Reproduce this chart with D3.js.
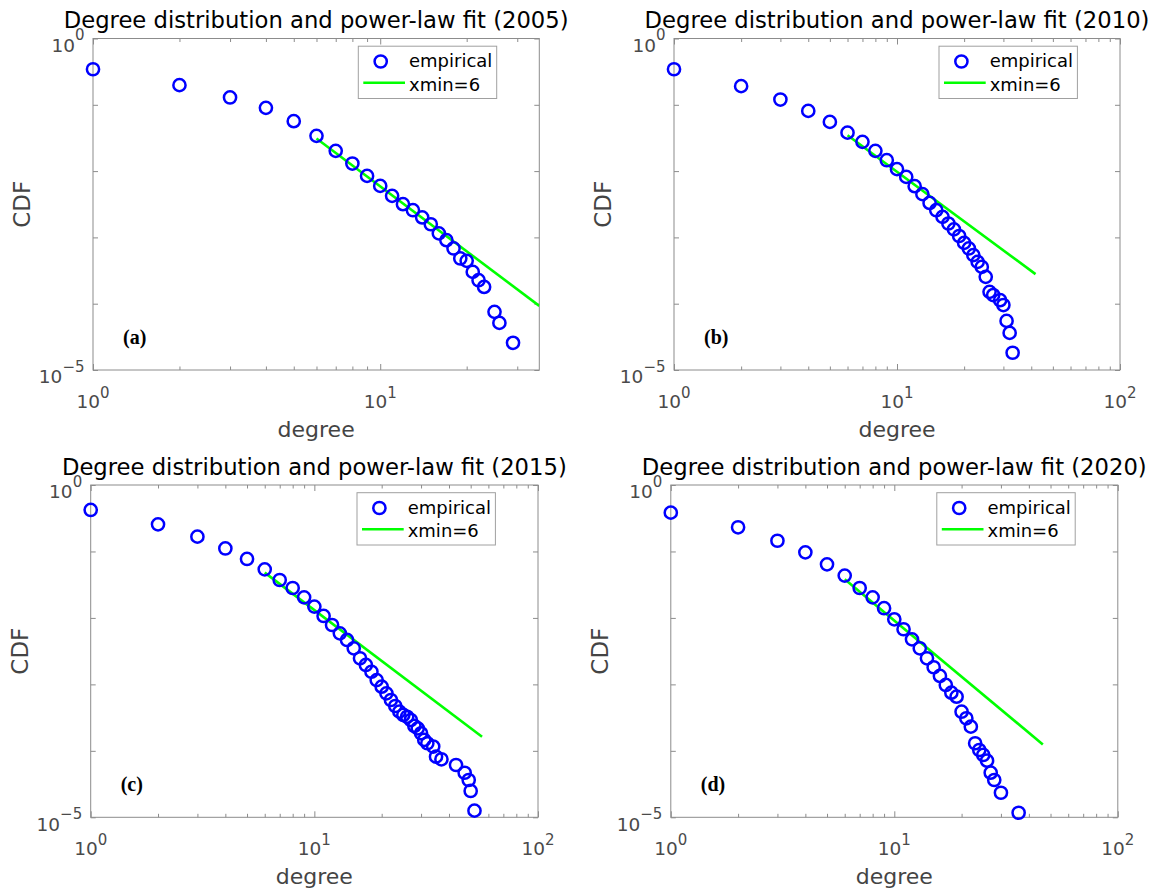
<!DOCTYPE html>
<html>
<head>
<meta charset="utf-8">
<script src="https://cdn.jsdelivr.net/npm/d3@7"></script>
<style>
  body { margin: 0; background: #fff; }
  svg { display: block; }
</style>
</head>
<body>
<svg id="chart" width="1163" height="892"></svg>
<script>
// ---------------- DATA ----------------
const years = [2005, 2010, 2015, 2020];
const panelTags = ["(a)", "(b)", "(c)", "(d)"];
const legendLabels = ["empirical", "xmin=6"];
const xLabel = "degree";
const yLabel = "CDF";
const xTickExps = [[0, 1], [0, 1, 2], [0, 1, 2], [0, 1, 2]];
const yTickExps = [0, -5];
const xMaxes = [35.8, 100, 100, 100];
const yDomain = [1e-5, 1];

const degree2005 = [1,2,3,4,5,6,7,8,9,10,11,12,13,14,15,16,17,18,19,20,21,22,23,25,26,29];
const cdf2005 = [3.44e-1,1.98e-1,1.29e-1,8.99e-2,5.66e-2,3.40e-2,2.02e-2,1.30e-2,8.47e-3,5.98e-3,
  4.23e-3,3.17e-3,2.57e-3,2.00e-3,1.58e-3,1.15e-3,9.08e-4,6.81e-4,4.81e-4,4.43e-4,
  3.02e-4,2.26e-4,1.79e-4,7.53e-5,5.13e-5,2.57e-5];

const degree2010 = [1,2,3,4,5,6,7,8,9,10,11,12,13,14,15,16,17,18,19,20,21,22,23,24,25,26,27,29,30,31,32,33];
const cdf2010 = [3.44e-1,1.91e-1,1.20e-1,8.09e-2,5.52e-2,3.80e-2,2.76e-2,2.02e-2,1.46e-2,1.07e-2,
  8.18e-3,5.92e-3,4.49e-3,3.31e-3,2.57e-3,2.04e-3,1.62e-3,1.32e-3,1.05e-3,8.26e-4,
  6.81e-4,5.40e-4,4.27e-4,3.59e-4,2.54e-4,1.51e-4,1.35e-4,1.13e-4,9.55e-5,5.50e-5,
  3.63e-5,1.82e-5];

const degree2015 = [1,2,3,4,5,6,7,8,9,10,11,12,13,14,15,16,17,18,19,20,21,22,23,24,25,26,27,28,29,30,31,32,34,35,37,43,47,49,50,52];
const cdf2015 = [4.21e-1,2.56e-1,1.67e-1,1.11e-1,7.71e-2,5.38e-2,3.72e-2,2.82e-2,2.04e-2,1.48e-2,
  1.07e-2,7.82e-3,5.86e-3,4.66e-3,3.49e-3,2.47e-3,1.96e-3,1.55e-3,1.16e-3,9.23e-4,
  7.33e-4,5.82e-4,4.73e-4,3.89e-4,3.47e-4,3.26e-4,2.91e-4,2.37e-4,2.18e-4,1.84e-4,
  1.46e-4,1.30e-4,1.16e-4,8.17e-5,7.46e-5,6.12e-5,4.68e-5,3.64e-5,2.49e-5,1.26e-5];

const degree2020 = [1,2,3,4,5,6,7,8,9,10,11,12,13,14,15,16,17,18,19,20,21,22,23,24,25,26,27,28,30,36];
const cdf2020 = [3.84e-1,2.31e-1,1.45e-1,9.70e-2,6.40e-2,4.33e-2,2.82e-2,2.04e-2,1.40e-2,9.53e-3,
  6.75e-3,4.76e-3,3.49e-3,2.47e-3,1.81e-3,1.34e-3,9.80e-4,7.50e-4,6.53e-4,3.88e-4,
  3.09e-4,2.31e-4,1.30e-4,1.03e-4,8.67e-5,7.11e-5,4.69e-5,3.64e-5,2.34e-5,1.17e-5];

// power-law fit lines (start at xmin = 6)
const fitX2005 = [6, 35.8],  fitY2005 = [3.10e-2, 9.27e-5];
const fitX2010 = [6, 41.8],  fitY2010 = [3.48e-2, 2.79e-4];
const fitX2015 = [6, 56.2],  fitY2015 = [4.80e-2, 1.63e-4];
const fitX2020 = [6, 46.2],  fitY2020 = [3.81e-2, 1.25e-4];

const degrees = [degree2005, degree2010, degree2015, degree2020];
const cdfs = [cdf2005, cdf2010, cdf2015, cdf2020];
const fitXs = [fitX2005, fitX2010, fitX2015, fitX2020];
const fitYs = [fitY2005, fitY2010, fitY2015, fitY2020];

// ---------------- LAYOUT ----------------
const layout = [
  { l: 93.0,  r: 539.3,  t: 38.5, b: 370.0 },
  { l: 674.0, r: 1120.0, t: 38.5, b: 370.0 },
  { l: 90.7,  r: 538.0,  t: 485.0, b: 817.3 },
  { l: 670.8, r: 1117.8, t: 485.0, b: 817.3 }
];
const sansFont = "'DejaVu Sans', sans-serif";
const serifFont = "'Liberation Serif', 'DejaVu Serif', serif";
const boxColor = "#8c8c8c";
const tickLabelColor = "#4a4a4a";
const axisLabelColor = "#444444";
const markerColor = "#0000ff";
const fitColor = "#00ff00";

const svg = d3.select("#chart");
svg.append("rect").attr("width", 1163).attr("height", 892).attr("fill", "#fff");

years.forEach((yr, i) => {
  const L = layout[i];
  const x = d3.scaleLog().domain([1, xMaxes[i]]).range([L.l, L.r]);
  const y = d3.scaleLog().domain(yDomain).range([L.b, L.t]);
  const g = svg.append("g").style("font-family", sansFont);

  const xMajor = [1, 10, 100].filter(v => v <= xMaxes[i] + 1e-9);
  const xMinor = [];
  [1, 10].forEach(d => { for (let k = 2; k <= 9; k++) { const v = k * d; if (v < xMaxes[i]) xMinor.push(v); } });
  const yMajor = [1e-5, 1e-4, 1e-3, 1e-2, 1e-1, 1];

  const styleAxis = sel => {
    sel.select(".domain").remove();
    sel.selectAll(".tick line").attr("stroke", boxColor).attr("stroke-width", 1);
  };
  g.append("g").attr("transform", `translate(0,${L.b})`)
    .call(d3.axisBottom(x).tickValues(xMajor).tickSize(-6).tickFormat("")).call(styleAxis);
  g.append("g").attr("transform", `translate(0,${L.b})`)
    .call(d3.axisBottom(x).tickValues(xMinor).tickSize(-3.5).tickFormat("")).call(styleAxis);
  g.append("g").attr("transform", `translate(0,${L.t})`)
    .call(d3.axisTop(x).tickValues(xMajor).tickSize(-6).tickFormat("")).call(styleAxis);
  g.append("g").attr("transform", `translate(0,${L.t})`)
    .call(d3.axisTop(x).tickValues(xMinor).tickSize(-3.5).tickFormat("")).call(styleAxis);
  g.append("g").attr("transform", `translate(${L.l},0)`)
    .call(d3.axisLeft(y).tickValues(yMajor).tickSize(-5).tickFormat("")).call(styleAxis);
  g.append("g").attr("transform", `translate(${L.r},0)`)
    .call(d3.axisRight(y).tickValues(yMajor).tickSize(-5).tickFormat("")).call(styleAxis);

  g.append("rect")
    .attr("x", L.l).attr("y", L.t).attr("width", L.r - L.l).attr("height", L.b - L.t)
    .attr("fill", "none").attr("stroke", boxColor).attr("stroke-width", 1);

  // x tick labels
  xTickExps[i].forEach(e => {
    const t = g.append("text")
      .attr("x", x(Math.pow(10, e))).attr("y", L.b + 37.5)
      .attr("text-anchor", "middle").attr("fill", tickLabelColor).style("font-size", "18.5px");
    t.append("tspan").text("10");
    t.append("tspan").attr("dy", -10).style("font-size", "15px").text(String(e).replace("-", "\u2212"));
  });
  // y tick labels
  yTickExps.forEach(e => {
    const t = g.append("text")
      .attr("x", L.l - 8.5).attr("y", y(Math.pow(10, e)) + 13.2)
      .attr("text-anchor", "end").attr("fill", tickLabelColor).style("font-size", "18.5px");
    t.append("tspan").text("10");
    t.append("tspan").attr("dy", -11.5).style("font-size", "15px").text(String(e).replace("-", "\u2212"));
  });

  const clipId = "clip" + i;
  svg.append("clipPath").attr("id", clipId).append("rect")
    .attr("x", L.l).attr("y", L.t).attr("width", L.r - L.l).attr("height", L.b - L.t);

  const fitData = fitXs[i].map((v, k) => [v, fitYs[i][k]]);
  g.append("path").datum(fitData)
    .attr("clip-path", `url(#${clipId})`)
    .attr("d", d3.line().x(d => x(d[0])).y(d => y(d[1])))
    .attr("fill", "none").attr("stroke", fitColor).attr("stroke-width", 2.6);

  g.append("g").selectAll("circle")
    .data(degrees[i].map((v, k) => [v, cdfs[i][k]]))
    .join("circle")
    .attr("cx", d => x(d[0])).attr("cy", d => y(d[1])).attr("r", 6.1)
    .attr("fill", "none").attr("stroke", markerColor).attr("stroke-width", 2.5);

  // title
  g.append("text")
    .attr("x", (L.l + L.r) / 2).attr("y", L.t - 10.5)
    .attr("text-anchor", "middle").style("font-size", "22.7px").attr("fill", "#000")
    .text(`Degree distribution and power-law fit (${yr})`);

  // axis labels
  g.append("text")
    .attr("x", (L.l + L.r) / 2).attr("y", L.b + 66.5)
    .attr("text-anchor", "middle").style("font-size", "22px").attr("fill", axisLabelColor)
    .text(xLabel);
  const cy = (L.t + L.b) / 2;
  g.append("text")
    .attr("transform", `translate(${L.l - 63},${cy}) rotate(-90)`)
    .attr("text-anchor", "middle").style("font-size", "23px").attr("fill", axisLabelColor)
    .text(yLabel);

  // panel tag (serif bold)
  g.append("text")
    .attr("x", L.l + 30).attr("y", L.b - 26)
    .style("font-family", serifFont).style("font-weight", "bold")
    .style("font-size", "20px").attr("fill", "#000")
    .text(panelTags[i]);

  // legend
  const bw = 138.4, bh = 52.3;
  const bx = L.r - 42.6 - bw, by = L.t + 7.7;
  const lg = g.append("g").attr("transform", `translate(${bx},${by})`);
  lg.append("rect").attr("width", bw).attr("height", bh)
    .attr("fill", "#fff").attr("stroke", "#a0a0a0").attr("stroke-width", 1);
  lg.append("circle").attr("cx", 22.4).attr("cy", 15.3).attr("r", 6.1)
    .attr("fill", "none").attr("stroke", markerColor).attr("stroke-width", 2.5);
  lg.append("line").attr("x1", 5).attr("x2", 46.7).attr("y1", 36.5).attr("y2", 36.5)
    .attr("stroke", fitColor).attr("stroke-width", 2.6);
  lg.append("text").attr("x", 50.7).attr("y", 21).style("font-size", "18px").attr("fill", "#000").text(legendLabels[0]);
  lg.append("text").attr("x", 50.7).attr("y", 44.5).style("font-size", "18px").attr("fill", "#000").text(legendLabels[1]);
});
</script>
</body>
</html>
